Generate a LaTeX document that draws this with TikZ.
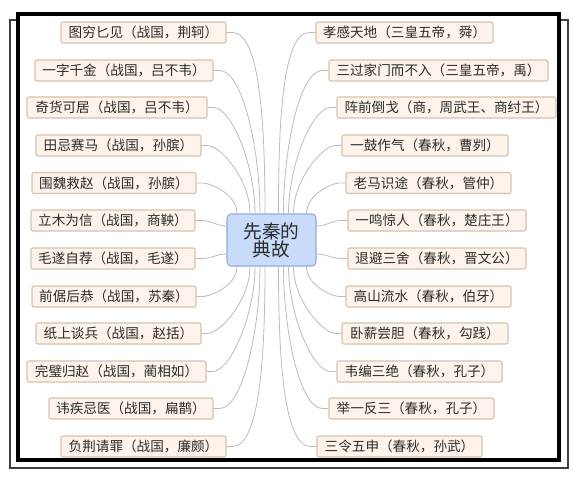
\documentclass[tikz,border=0pt]{standalone}
\usepackage{fontspec}
\newfontfamily\cjk{Noto Sans CJK SC}
\definecolor{leaffill}{HTML}{FDF3EA}
\definecolor{leafdraw}{HTML}{D6C2AE}
\definecolor{hubfill}{HTML}{C8DBF9}
\definecolor{hubdraw}{HTML}{8EADE2}
\definecolor{txt}{HTML}{2B2B2B}
\definecolor{conncol}{HTML}{BBBBBB}
\begin{document}
\begin{tikzpicture}[x=0.75pt,y=-0.75pt,
  leaf/.style={draw=leafdraw,fill=leaffill,line width=0.8pt,rounded corners=1.5pt,
    minimum height=15.75pt,inner sep=0pt,text=txt,font=\cjk\fontsize{10.2pt}{10.5pt}\selectfont},
  hub/.style={draw=hubdraw,fill=hubfill,line width=0.8pt,rounded corners=3pt,
    minimum width=66.75pt,minimum height=39pt,inner sep=0pt,align=center,text=txt,
    font=\cjk\fontsize{14pt}{13.5pt}\selectfont},
  conn/.style={draw=conncol,line width=0.6pt},
  frameA/.style={draw=black!75,line width=0.8pt},
  frameB/.style={draw=black,line width=3pt,fill=white}]
\useasboundingbox (0,0) rectangle (573,477);
\draw[frameA] (10,20) rectangle (568,468);
\draw[frameB] (18,14.5) rectangle (559,460);

\node[hub] (c) at (271.5,240) {先秦的\\典故};

\node[leaf,minimum width={165*0.75pt}] (L1) at (143.5,32.5) {图穷匕见（战国，荆轲）};
\node[leaf,minimum width={178*0.75pt}] (L2) at (124,70.5) {一字千金（战国，吕不韦）};
\node[leaf,minimum width={180*0.75pt}] (L3) at (117,107.5) {奇货可居（战国，吕不韦）};
\node[leaf,minimum width={165*0.75pt}] (L4) at (118.5,145.5) {田忌赛马（战国，孙膑）};
\node[leaf,minimum width={164*0.75pt}] (L5) at (114,183) {围魏救赵（战国，孙膑）};
\node[leaf,minimum width={164*0.75pt}] (L6) at (113,220.5) {立木为信（战国，商鞅）};
\node[leaf,minimum width={164*0.75pt}] (L7) at (113,258.5) {毛遂自荐（战国，毛遂）};
\node[leaf,minimum width={164*0.75pt}] (L8) at (114,296.5) {前倨后恭（战国，苏秦）};
\node[leaf,minimum width={165*0.75pt}] (L9) at (118.5,333.5) {纸上谈兵（战国，赵括）};
\node[leaf,minimum width={179*0.75pt}] (L10) at (116.5,371.5) {完璧归赵（战国，蔺相如）};
\node[leaf,minimum width={164*0.75pt}] (L11) at (131,408.5) {讳疾忌医（战国，扁鹊）};
\node[leaf,minimum width={165*0.75pt}] (L12) at (143.5,446.5) {负荆请罪（战国，廉颇）};

\node[leaf,minimum width={177*0.75pt}] (R1) at (404.5,32.5) {孝感天地（三皇五帝，舜）};
\node[leaf,minimum width={219*0.75pt}] (R2) at (438.5,70.5) {三过家门而不入（三皇五帝，禹）};
\node[leaf,minimum width={219*0.75pt}] (R3) at (446.5,107.5) {阵前倒戈（商，周武王、商纣王）};
\node[leaf,minimum width={166*0.75pt}] (R4) at (425,145.5) {一鼓作气（春秋，曹刿）};
\node[leaf,minimum width={165*0.75pt}] (R5) at (428.5,183) {老马识途（春秋，管仲）};
\node[leaf,minimum width={178*0.75pt}] (R6) at (437,220.5) {一鸣惊人（春秋，楚庄王）};
\node[leaf,minimum width={178*0.75pt}] (R7) at (437,258.5) {退避三舍（春秋，晋文公）};
\node[leaf,minimum width={165*0.75pt}] (R8) at (428.5,296.5) {高山流水（春秋，伯牙）};
\node[leaf,minimum width={166*0.75pt}] (R9) at (425,333.5) {卧薪尝胆（春秋，勾践）};
\node[leaf,minimum width={165*0.75pt}] (R10) at (419.5,371.5) {韦编三绝（春秋，孔子）};
\node[leaf,minimum width={165*0.75pt}] (R11) at (411.5,408.5) {举一反三（春秋，孔子）};
\node[leaf,minimum width={165*0.75pt}] (R12) at (399.5,446.5) {三令五申（春秋，孙武）};

\foreach \n/\dx in {L1/-6.5,L2/-11.5,L3/-16.5,L4/-21.5,L5/-34.5}
  \draw[conn] (\n.east) -- ++(6,0) to[out=0,in=90,out looseness=0.4,in looseness=1.1] ([shift={(\dx,0)}]c.north);
\foreach \n/\dx in {L12/-6.5,L11/-11.5,L10/-16.5,L9/-21.5,L8/-34.5}
  \draw[conn] (\n.east) -- ++(6,0) to[out=0,in=-90,out looseness=0.4,in looseness=1.1] ([shift={(\dx,0)}]c.south);
\foreach \n/\dx in {R1/7,R2/12,R3/17,R4/22,R5/35}
  \draw[conn] (\n.west) -- ++(-6,0) to[out=180,in=90,out looseness=0.4,in looseness=1.1] ([shift={(\dx,0)}]c.north);
\foreach \n/\dx in {R12/7,R11/12,R10/17,R9/22,R8/35}
  \draw[conn] (\n.west) -- ++(-6,0) to[out=180,in=-90,out looseness=0.4,in looseness=1.1] ([shift={(\dx,0)}]c.south);
\draw[conn] (L6.east) -- ++(6,0) to[out=0,in=180] ([shift={(0,-14)}]c.west);
\draw[conn] (L7.east) -- ++(6,0) to[out=0,in=180] ([shift={(0,14)}]c.west);
\draw[conn] (R6.west) -- ++(-6,0) to[out=180,in=0] ([shift={(0,-14)}]c.east);
\draw[conn] (R7.west) -- ++(-6,0) to[out=180,in=0] ([shift={(0,14)}]c.east);
\end{tikzpicture}
\end{document}
